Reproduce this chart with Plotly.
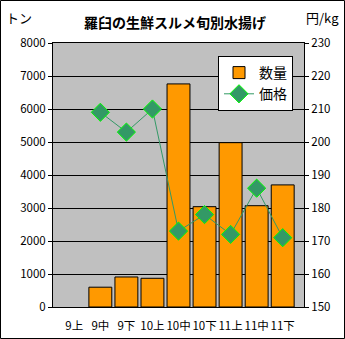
import plotly.graph_objects as go

categories = ["9上", "9中", "9下", "10上", "10中", "10下", "11上", "11中", "11下"]
quantity = [None, 600, 910, 870, 6760, 3040, 4980, 3070, 3700]
price = [None, 209, 203, 210, 173, 178, 172, 186, 171]

W, H = 345, 339
ML, MR, MT, MB = 53, 41, 43, 32
pw = W - ML - MR
ph = H - MT - MB

FONT = "Noto Sans CJK JP"

fig = go.Figure()
fig.add_trace(go.Bar(
    x=categories, y=quantity, name="数量",
    marker=dict(color="#FF9900", line=dict(color="black", width=1)),
    width=0.88, yaxis="y"
))
fig.add_trace(go.Scatter(
    x=categories, y=price, name="価格", yaxis="y2",
    mode="lines+markers",
    line=dict(color="#339966", width=1),
    marker=dict(symbol="diamond", size=14, color="#339966",
                line=dict(color="#00FF00", width=1)),
    connectgaps=False
))

fig.update_layout(
    width=W, height=H,
    margin=dict(l=ML, r=MR, t=MT, b=MB, autoexpand=False),
    paper_bgcolor="white",
    plot_bgcolor="#C0C0C0",
    font=dict(family=FONT, size=11, color="black"),
    showlegend=True,
    legend=dict(
        x=(218 - ML) / pw, y=1 - (56 - MT) / ph,
        xanchor="left", yanchor="top",
        bgcolor="white", bordercolor="black", borderwidth=1,
        font=dict(family=FONT, size=14),
        itemwidth=30, tracegroupgap=0,
    ),
    xaxis=dict(
        showline=True, linecolor="black", linewidth=1, mirror=True,
        ticks="", tickfont=dict(size=11.5), showgrid=False,
        tickangle=0, automargin=False, ticklabelstandoff=8,
    ),
    yaxis=dict(
        range=[0, 8000], dtick=1000, showgrid=True, gridcolor="black", gridwidth=1,
        showline=True, linecolor="black", linewidth=1,
        ticks="outside", ticklen=4, tickcolor="black",
        tickfont=dict(size=11.5), zeroline=False, automargin=False,
    ),
    yaxis2=dict(
        range=[150, 230], dtick=10, overlaying="y", side="right",
        showgrid=False, showline=True, linecolor="black", linewidth=1,
        ticks="outside", ticklen=4, tickcolor="black",
        tickfont=dict(size=11.5), zeroline=False, automargin=False,
    ),
    bargap=0.1,
)

fig.add_annotation(text="<b>羅臼の生鮮スルメ旬別水揚げ</b>", xref="paper", yref="paper",
                   x=(175 - ML) / pw, y=1 + (MT - 22) / ph, showarrow=False,
                   font=dict(family=FONT, size=14), xanchor="center", yanchor="middle")
fig.add_annotation(text="トン", xref="paper", yref="paper",
                   x=(4 - ML) / pw, y=1 + (MT - 17) / ph, showarrow=False,
                   font=dict(family=FONT, size=13), xanchor="left", yanchor="middle")
fig.add_annotation(text="円/kg", xref="paper", yref="paper",
                   x=(341 - ML) / pw, y=1 + (MT - 17) / ph, showarrow=False,
                   font=dict(family=FONT, size=13), xanchor="right", yanchor="middle")

fig.add_shape(type="rect", xref="paper", yref="paper",
              x0=(0.5 - ML) / pw, x1=(W - 0.5 - ML) / pw,
              y0=-(MB - 0.5) / ph, y1=1 + (MT - 0.5) / ph,
              line=dict(color="black", width=1), layer="above")

fig.write_html("out.html")
